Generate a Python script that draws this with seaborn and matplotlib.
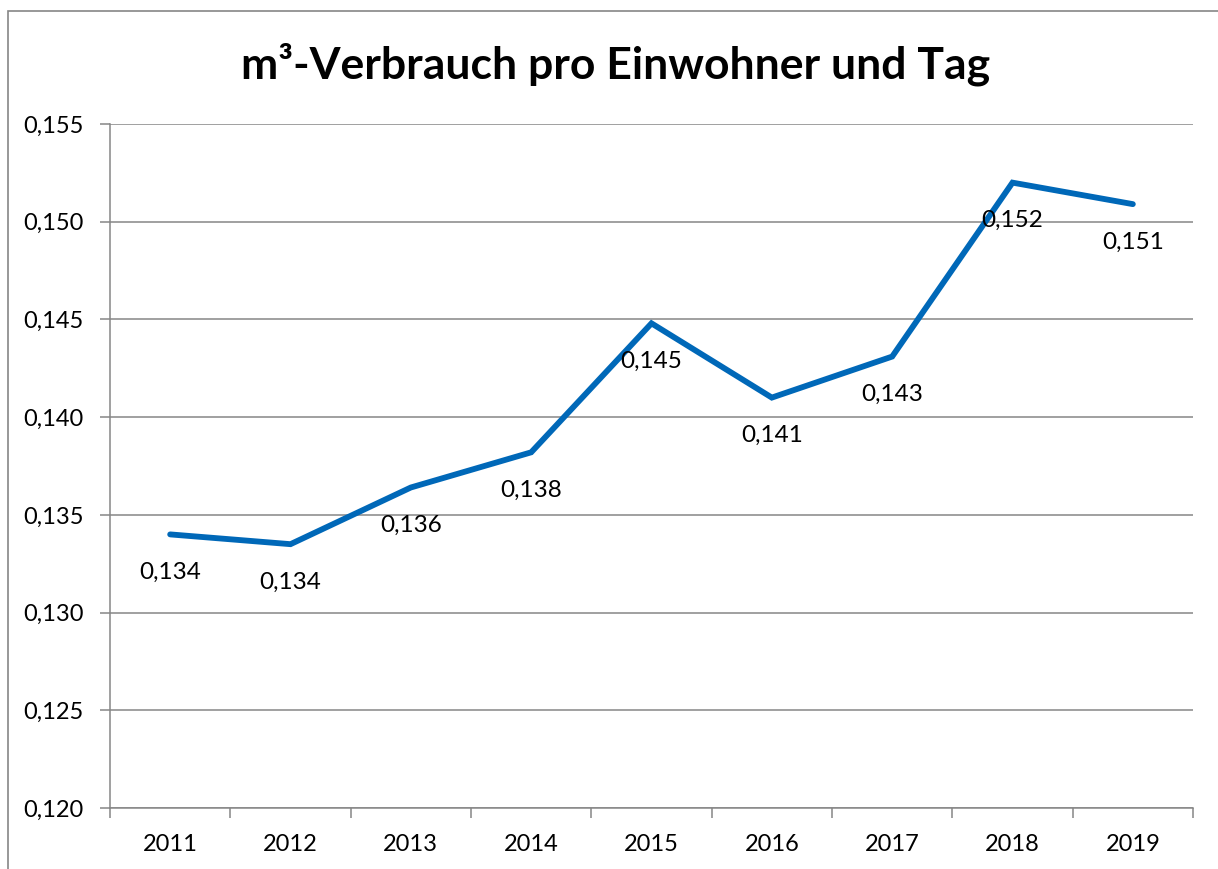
import numpy as np
import pandas as pd
import matplotlib
matplotlib.use("Agg")
import matplotlib.pyplot as plt
from matplotlib.patches import Rectangle
from matplotlib.ticker import FixedLocator, FuncFormatter
import seaborn as sns

# Data
years = ["2011", "2012", "2013", "2014", "2015", "2016", "2017", "2018", "2019"]
verbrauch = [0.1340, 0.1335, 0.1364, 0.1382, 0.1448, 0.1410, 0.1431, 0.1520, 0.1509]
y_ticks = [0.120, 0.125, 0.130, 0.135, 0.140, 0.145, 0.150, 0.155]
title = "m³-Verbrauch pro Einwohner und Tag"

df = pd.DataFrame({"pos": np.arange(len(years)), "wert": verbrauch, "jahr": years})

sns.set_theme(style="white")
plt.rcParams["font.family"] = ["Lato", "DejaVu Sans"]

fig = plt.figure(figsize=(12.18, 8.69), dpi=100)
ax = fig.add_axes([110 / 1218, 1 - 808 / 869, 1083 / 1218, 684 / 869])

grid_col = "#868686"
blue = "#0068B8"

# outer chart frame (cropped at right/bottom like the original)
fig.patches.append(Rectangle((8 / 1218, -0.1), 1.2, 1 - 11 / 869 + 0.1,
                             transform=fig.transFigure, fill=False,
                             edgecolor=grid_col, linewidth=1.2))

sns.lineplot(data=df, x="pos", y="wert", ax=ax, color=blue, linewidth=4.2,
             solid_capstyle="round", solid_joinstyle="miter", zorder=3)

for _, r in df.iterrows():
    ax.annotate(f"{r['wert']:.3f}".replace(".", ","), (r["pos"], r["wert"]),
                xytext=(0, -38), textcoords="offset pixels",
                ha="center", va="center", fontsize=17.5, color="black", zorder=4)

ax.set_xlim(-0.5, len(years) - 0.5)
ax.set_ylim(y_ticks[0], y_ticks[-1])

ax.yaxis.set_major_locator(FixedLocator(y_ticks))
ax.yaxis.set_major_formatter(FuncFormatter(lambda v, p: f"{v:.3f}".replace(".", ",")))
ax.yaxis.grid(True, color=grid_col, linewidth=1.1)
ax.set_axisbelow(True)

# ticks between categories, labels at centers
ax.xaxis.set_major_locator(FixedLocator(np.arange(len(years) + 1) - 0.5))
ax.xaxis.set_major_formatter(FuncFormatter(lambda v, p: ""))
ax.set_xticks(df["pos"], minor=True)
ax.set_xticklabels(years, minor=True)
ax.tick_params(axis="x", which="major", length=7, width=1.1, color=grid_col, direction="out", bottom=True)
ax.tick_params(axis="x", which="minor", length=0, labelsize=17, pad=19, labelcolor="black")
ax.tick_params(axis="y", which="major", length=7, width=1.1, color=grid_col, direction="out",
               left=True, labelsize=17, pad=12, labelcolor="black")

for s in ["top", "right"]:
    ax.spines[s].set_visible(False)
for s in ["left", "bottom"]:
    ax.spines[s].set_color(grid_col)
    ax.spines[s].set_linewidth(1.1)

ax.set_xlabel("")
ax.set_ylabel("")

fig.text(616 / 1218, 1 - 64 / 869, title, ha="center", va="center",
         fontsize=32, fontweight="bold", color="black")

fig.savefig("out.png", dpi=100)
